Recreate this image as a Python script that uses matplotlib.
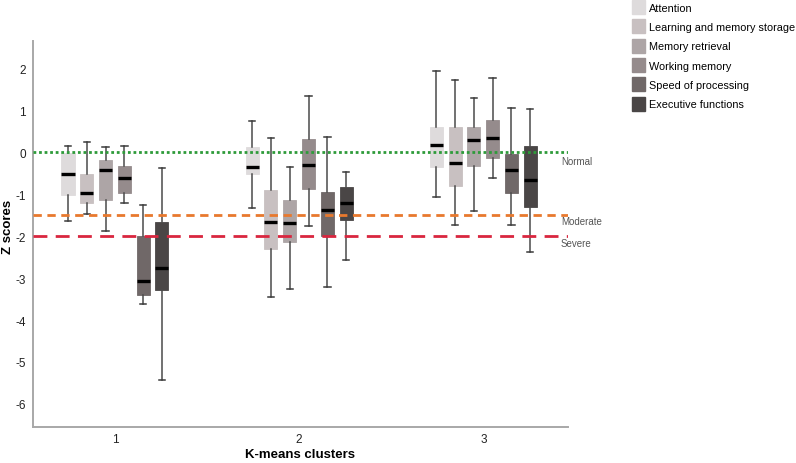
import matplotlib
matplotlib.use("Agg")
import matplotlib.pyplot as plt
from matplotlib.patches import Patch

plt.rcParams['font.family'] = ['Liberation Sans', 'DejaVu Sans']
plt.rcParams['axes.unicode_minus'] = False

clusters = ["1", "2", "3"]
domains = ["Attention", "Learning and memory storage", "Memory retrieval",
           "Working memory", "Speed of processing", "Executive functions"]
colors = ["#DEDBDC", "#C8C0C1", "#ADA5A6", "#958B8C", "#706868", "#4A4646"]

# per cluster (rows) x domain (columns)
whis_hi = [[0.14, 0.25, 0.13, 0.14, -1.26, -0.38],
           [0.75, 0.33, -0.35, 1.33, 0.36, -0.47],
           [1.94, 1.71, 1.29, 1.77, 1.05, 1.03]]
q3 = [[-0.01, -0.53, -0.19, -0.32, -1.99, -1.66],
      [0.13, -0.89, -1.14, 0.31, -0.94, -0.84],
      [0.59, 0.61, 0.61, 0.77, -0.05, 0.14]]
median = [[-0.52, -0.98, -0.42, -0.61, -3.08, -2.75],
          [-0.35, -1.66, -1.68, -0.30, -1.37, -1.22],
          [0.17, -0.25, 0.29, 0.33, -0.43, -0.66]]
q1 = [[-1.01, -1.21, -1.13, -0.97, -3.40, -3.29],
      [-0.52, -2.30, -2.14, -0.88, -1.99, -1.61],
      [-0.35, -0.81, -0.34, -0.14, -0.98, -1.30]]
whis_lo = [[-1.64, -1.47, -1.88, -1.21, -3.62, -5.44],
           [-1.32, -3.46, -3.25, -1.77, -3.21, -2.56],
           [-1.07, -1.73, -1.40, -0.61, -1.73, -2.38]]

ref_levels = [0, -1.5, -2]
ref_labels = ["Normal", "Moderate", "Severe"]
ref_colors = ["#2E9B3A", "#E8792E", "#D9263F"]
ref_styles = [(0, (1, 1)), (0, (3, 2)), (0, (5, 3))]

W, H = 796, 464
fig = plt.figure(figsize=(W / 100, H / 100), dpi=100)
ax = fig.add_axes([33 / W, 1 - 428 / H, (568 - 33) / W, (428 - 42) / H])

spacing = 0.102
bw = 0.071
for ci in range(len(clusters)):
    for di in range(len(domains)):
        pos = ci + 1 + (di - 2.5) * spacing
        st = dict(med=median[ci][di], q1=q1[ci][di], q3=q3[ci][di],
                  whislo=whis_lo[ci][di], whishi=whis_hi[ci][di], fliers=[])
        ax.bxp([st], positions=[pos], widths=bw, capwidths=0.035,
               patch_artist=True, showfliers=False,
               boxprops=dict(facecolor=colors[di], edgecolor=colors[di], linewidth=0.6),
               whiskerprops=dict(color="#4a4a4a", linewidth=1.1),
               capprops=dict(color="#3a3a3a", linewidth=1.1),
               medianprops=dict(color="black", linewidth=2.4, solid_capstyle="butt"),
               zorder=2)

for lev, lab, col, ls in zip(ref_levels, ref_labels, ref_colors, ref_styles):
    ax.axhline(lev, color=col, linestyle=ls, linewidth=2.0, zorder=3)

ax.set_xlim(0.555, 3.46)
ax.set_ylim(-6.55, 2.65)
ax.set_xticks([1, 2, 3])
ax.set_xticklabels(clusters)
ax.set_yticks(range(-6, 3))
ax.tick_params(length=0, labelsize=8.5, colors="#222222")
ax.tick_params(axis="x", pad=4)
ax.tick_params(axis="y", pad=5)
for s in ["top", "right"]:
    ax.spines[s].set_visible(False)
for s in ["left", "bottom"]:
    ax.spines[s].set_color("#a8a8a8")
    ax.spines[s].set_linewidth(1.4)
ax.set_xlabel("K-means clusters", fontsize=9.5, fontweight="bold")
ax.set_ylabel("Z scores", fontsize=9.5, fontweight="bold")
ax.xaxis.set_label_coords((300 - 33) / 535, -(455 - 428) / 386)
ax.yaxis.set_label_coords((8 - 33) / 535, (428 - 227) / 386)
ax.xaxis.label.set_va("center")
ax.yaxis.label.set_va("center")

# reference labels
label_y_px = [162, 222, 244]
for lab, ypx in zip(ref_labels, label_y_px):
    fig.text(561 / W, 1 - ypx / H, lab, fontsize=7, color="#555555",
             ha="left", va="center")

handles = [Patch(facecolor=c, edgecolor=c) for c in colors]
fig.legend(handles, domains, loc="upper left", bbox_to_anchor=(632 / W, 1 - 1 / H),
           frameon=False, fontsize=7.8, handlelength=1.2, handleheight=1.6,
           handletextpad=0.4, labelspacing=0.5, borderaxespad=0.0, borderpad=0.0)

fig.savefig("out.png", dpi=100)
